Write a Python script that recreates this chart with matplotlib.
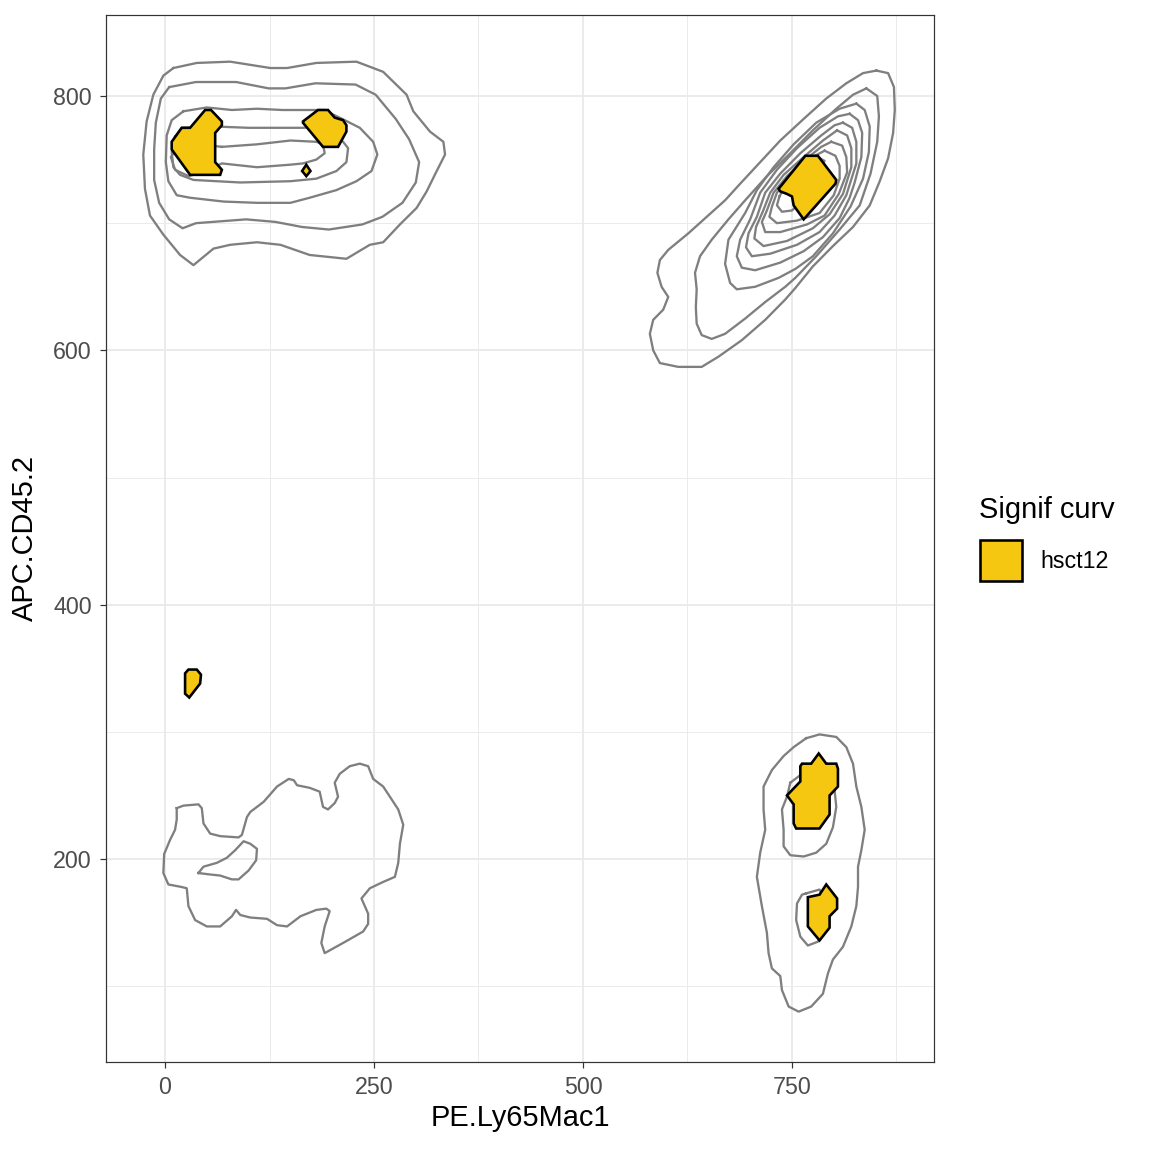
import matplotlib
matplotlib.use("Agg")
import matplotlib.pyplot as plt
from matplotlib.patches import Rectangle

plt.rcParams['font.family'] = ['Liberation Sans', 'DejaVu Sans']

# contour lines, (PE.Ly65Mac1, APC.CD45.2)
# top-left cluster
tl_c1 = [(10, 822), (38, 826), (78, 827), (126, 822), (146, 822), (181, 826), (229, 827),
         (261, 819), (289, 801), (297, 788), (317, 772), (333, 764), (335, 754), (325, 741),
         (313, 725), (301, 712), (281, 699), (261, 685), (245, 683), (217, 672), (173, 675),
         (138, 683), (110, 685), (78, 683), (58, 680), (34, 667), (18, 675), (-2, 691),
         (-18, 706), (-24, 727), (-26, 754), (-22, 780), (-14, 801), (-2, 816)]
tl_c2 = [(5, 807), (37, 811), (85, 811), (124, 806), (144, 806), (180, 810), (228, 809),
         (252, 801), (276, 782), (292, 766), (304, 748), (300, 732), (284, 716), (260, 705),
         (236, 699), (196, 695), (164, 697), (132, 701), (97, 703), (57, 701), (37, 700),
         (21, 696), (5, 703), (-7, 716), (-13, 734), (-13, 758), (-11, 779), (-5, 798)]
tl_c3 = [(22, 788), (50, 791), (80, 789), (110, 790), (140, 789), (165, 789), (190, 789),
         (215, 781), (233, 775), (249, 764), (254, 754), (247, 741), (229, 733), (205, 726),
         (173, 720), (150, 716), (110, 716), (70, 717), (30, 720), (14, 722), (4, 733),
         (1, 748), (2, 769), (8, 781)]
tl_c4 = [(12, 768), (20, 775), (60, 776), (100, 775), (140, 775), (165, 775), (190, 776),
         (213, 764), (219, 759), (217, 748), (205, 741), (181, 735), (150, 733), (90, 732),
         (34, 734), (18, 738), (10, 744), (8, 756)]
tl_c5 = [(68, 760), (110, 762), (150, 765), (181, 764), (189, 762), (191, 755), (181, 750),
         (165, 747), (150, 746), (110, 744), (68, 747), (45, 740), (28, 737), (12, 742),
         (7, 752), (15, 760), (30, 763)]

# top-right cluster
tr_c1 = [(851, 820), (865, 818), (872, 807), (873, 789), (871, 771), (865, 751), (855, 733),
         (843, 714), (823, 697), (799, 682), (775, 666), (754, 649), (742, 640), (718, 624),
         (690, 608), (662, 595), (642, 587), (614, 587), (592, 590), (584, 600), (580, 613),
         (584, 624), (596, 632), (602, 642), (594, 650), (589, 661), (592, 671), (602, 679),
         (626, 692), (648, 705), (670, 718), (688, 731), (712, 748), (736, 765), (764, 782),
         (791, 798), (815, 810), (835, 818)]
tr_c2 = [(839, 806), (852, 800), (854, 784), (852, 764), (844, 739), (831, 714), (807, 695),
         (779, 674), (754, 657), (742, 650), (718, 638), (694, 625), (670, 613), (654, 609),
         (642, 612), (636, 621), (635, 634), (636, 648), (634, 661), (640, 674), (654, 687),
         (674, 703), (694, 718), (720, 737), (748, 755), (775, 773), (803, 790), (823, 801)]
tr_c3 = [(827, 794), (837, 789), (843, 776), (842, 756), (835, 735), (820, 713), (799, 692),
         (775, 674), (754, 664), (734, 657), (706, 650), (684, 648), (676, 653), (670, 668),
         (674, 687), (694, 708), (708, 726), (728, 744), (752, 762), (779, 779), (807, 790)]
tr_c4 = [(819, 786), (829, 781), (834, 771), (833, 752), (825, 732), (819, 720), (807, 704),
         (787, 689), (764, 678), (736, 669), (706, 663), (690, 665), (684, 674), (688, 687),
         (700, 703), (712, 724), (732, 742), (756, 759), (783, 775), (805, 784)]
tr_c5 = [(811, 779), (822, 775), (827, 764), (827, 747), (815, 722), (801, 706), (783, 693),
         (756, 683), (724, 676), (702, 674), (695, 681), (698, 692), (708, 705), (718, 724),
         (736, 739), (760, 755), (785, 769), (801, 777)]
tr_c6 = [(804, 773), (816, 769), (821, 759), (821, 744), (811, 723), (795, 707), (775, 696),
         (744, 686), (716, 682), (705, 688), (707, 697), (715, 709), (724, 724), (740, 738),
         (764, 752), (787, 765)]
tr_c7 = [(797, 764), (810, 761), (815, 752), (816, 740), (806, 723), (789, 706), (768, 699),
         (736, 693), (718, 693), (714, 701), (720, 710), (728, 724), (744, 737), (766, 750),
         (785, 760)]
tr_c8 = [(789, 757), (802, 753), (807, 745), (807, 735), (800, 722), (783, 708), (756, 702),
         (732, 700), (723, 705), (726, 713), (732, 724), (748, 737), (769, 750)]
tr_c9 = [(735, 721), (732, 714), (738, 709), (750, 710), (763, 718), (778, 734), (789, 749),
         (778, 753), (756, 739), (740, 727)]

# bottom-left cluster
bl_c1 = [(14, 240), (22, 242), (40, 243), (44, 240), (46, 228), (54, 220), (66, 218),
         (88, 217), (92, 219), (98, 233), (102, 237), (118, 245), (134, 257), (148, 263),
         (154, 262), (158, 258), (173, 256), (185, 253), (189, 241), (195, 239), (203, 244),
         (207, 249), (203, 260), (209, 267), (221, 273), (233, 275), (243, 273), (249, 263),
         (261, 257), (269, 249), (279, 239), (285, 227), (281, 212), (279, 197), (275, 186),
         (261, 182), (245, 177), (235, 169), (243, 157), (243, 149), (237, 143), (213, 134),
         (191, 126), (187, 134), (191, 147), (197, 159), (193, 161), (181, 160), (162, 155),
         (146, 147), (134, 148), (122, 153), (102, 154), (90, 156), (85, 160), (80, 155),
         (66, 147), (50, 147), (36, 152), (28, 163), (26, 177), (20, 178), (4, 180), (-2, 189),
         (-1, 204), (6, 215), (12, 223), (14, 231)]
bl_c2 = [(40, 189), (46, 194), (62, 197), (74, 201), (84, 207), (94, 214), (102, 212),
         (110, 208), (109, 199), (100, 191), (88, 184), (80, 184), (66, 187), (52, 188)]

# bottom-right cluster
br_c1 = [(767, 295), (783, 298), (803, 296), (815, 288), (823, 275), (827, 257), (833, 241),
         (837, 223), (833, 207), (829, 194), (829, 178), (827, 163), (821, 147), (811, 131),
         (799, 121), (793, 110), (787, 94), (773, 84), (758, 80), (746, 84), (738, 97),
         (736, 108), (726, 114), (722, 126), (720, 142), (714, 163), (708, 186), (712, 205),
         (718, 223), (716, 239), (716, 257), (726, 270), (740, 281), (752, 288)]
br_c2 = [(748, 260), (744, 249), (738, 239), (740, 223), (740, 210), (748, 203), (764, 202),
         (779, 205), (791, 212), (799, 225), (803, 241), (801, 254), (793, 266), (777, 270),
         (762, 267)]
br_c3 = [(767, 173), (783, 176), (792, 163), (789, 147), (781, 135), (769, 132), (760, 139),
         (755, 152), (756, 165), (762, 172)]

contour_lines = [tl_c1, tl_c2, tl_c3, tl_c4, tl_c5,
                 tr_c1, tr_c2, tr_c3, tr_c4, tr_c5, tr_c6, tr_c7, tr_c8, tr_c9,
                 bl_c1, bl_c2, br_c1, br_c2, br_c3]

# significant-curvature regions (hsct12)
sig_tl_a = [(48, 789), (55, 789), (68, 780), (68, 777), (60, 771), (60, 748), (68, 742),
            (66, 738), (30, 738), (8, 758), (8, 764), (20, 775), (30, 775)]
sig_tl_b = [(165, 780), (183, 789), (195, 789), (203, 783), (213, 781), (217, 777),
            (217, 772), (207, 760), (189, 760), (165, 779)]
sig_tl_c = [(169, 746), (174, 741), (169, 737), (164, 741)]
sig_tr = [(734, 727), (766, 753), (781, 753), (803, 734), (802, 731), (764, 703),
          (752, 714), (750, 721), (744, 723), (736, 725)]
sig_mid = [(24, 346), (28, 349), (38, 349), (43, 345), (42, 338), (29, 327), (24, 330)]
sig_br_a = [(760, 273), (762, 275), (773, 275), (782, 283), (791, 275), (803, 275),
            (805, 271), (805, 257), (795, 250), (795, 235), (783, 224), (755, 224),
            (752, 228), (752, 243), (744, 250), (760, 261)]
sig_br_b = [(769, 170), (783, 172), (791, 180), (804, 169), (804, 161), (795, 155),
            (795, 146), (783, 136), (769, 147)]

sig_regions = [sig_tl_a, sig_tl_b, sig_tl_c, sig_tr, sig_mid, sig_br_a, sig_br_b]

x_ticks = [0, 250, 500, 750]
y_ticks = [200, 400, 600, 800]
x_minor = [125, 375, 625, 875]
y_minor = [100, 300, 500, 700]

legend_title = 'Signif curv'
legend_label = 'hsct12'
fill_col = '#F5C710'

fig = plt.figure(figsize=(8, 8), dpi=144)
ax = fig.add_axes([106 / 1152, 1 - 1062 / 1152, 828 / 1152, 1047 / 1152])

for pts in contour_lines:
    xs = [p[0] for p in pts] + [pts[0][0]]
    ys = [p[1] for p in pts] + [pts[0][1]]
    ax.plot(xs, ys, color='#7F7F7F', lw=1.15, solid_joinstyle='round', zorder=2)

for pts in sig_regions:
    xs = [p[0] for p in pts]
    ys = [p[1] for p in pts]
    ax.fill(xs, ys, facecolor=fill_col, edgecolor='black', lw=1.3, zorder=3)

ax.set_xlim(-70.6, 919.9)
ax.set_ylim(40.4, 863.7)
ax.set_xticks(x_ticks)
ax.set_yticks(y_ticks)
ax.set_xticks(x_minor, minor=True)
ax.set_yticks(y_minor, minor=True)
ax.grid(which='major', color='#EBEBEB', lw=1.0)
ax.grid(which='minor', color='#EBEBEB', lw=0.5)
ax.set_axisbelow(True)
ax.tick_params(which='minor', length=0)
ax.tick_params(which='major', length=3, width=0.6, color='#333333',
               labelcolor='#4D4D4D', labelsize=11.6, pad=4)
for sp in ax.spines.values():
    sp.set_color('#333333')
    sp.set_linewidth(0.6)

fig.text(520 / 1152, 1 - 1118 / 1152, 'PE.Ly65Mac1', ha='center', va='center', fontsize=14.5)
fig.text(25 / 1152, 1 - 538 / 1152, 'APC.CD45.2', ha='center', va='center',
         rotation=90, fontsize=14.5)

# legend drawn by hand
fig.text(979 / 1152, 1 - 510 / 1152, legend_title, ha='left', va='center', fontsize=14.5)
fig.add_artist(Rectangle((980 / 1152, 1 - 581 / 1152), 42 / 1152, 41 / 1152,
                         transform=fig.transFigure, facecolor=fill_col,
                         edgecolor='black', lw=1.3))
fig.text(1040 / 1152, 1 - 561 / 1152, legend_label, ha='left', va='center', fontsize=11.6)

fig.savefig('out.png', dpi=144)
